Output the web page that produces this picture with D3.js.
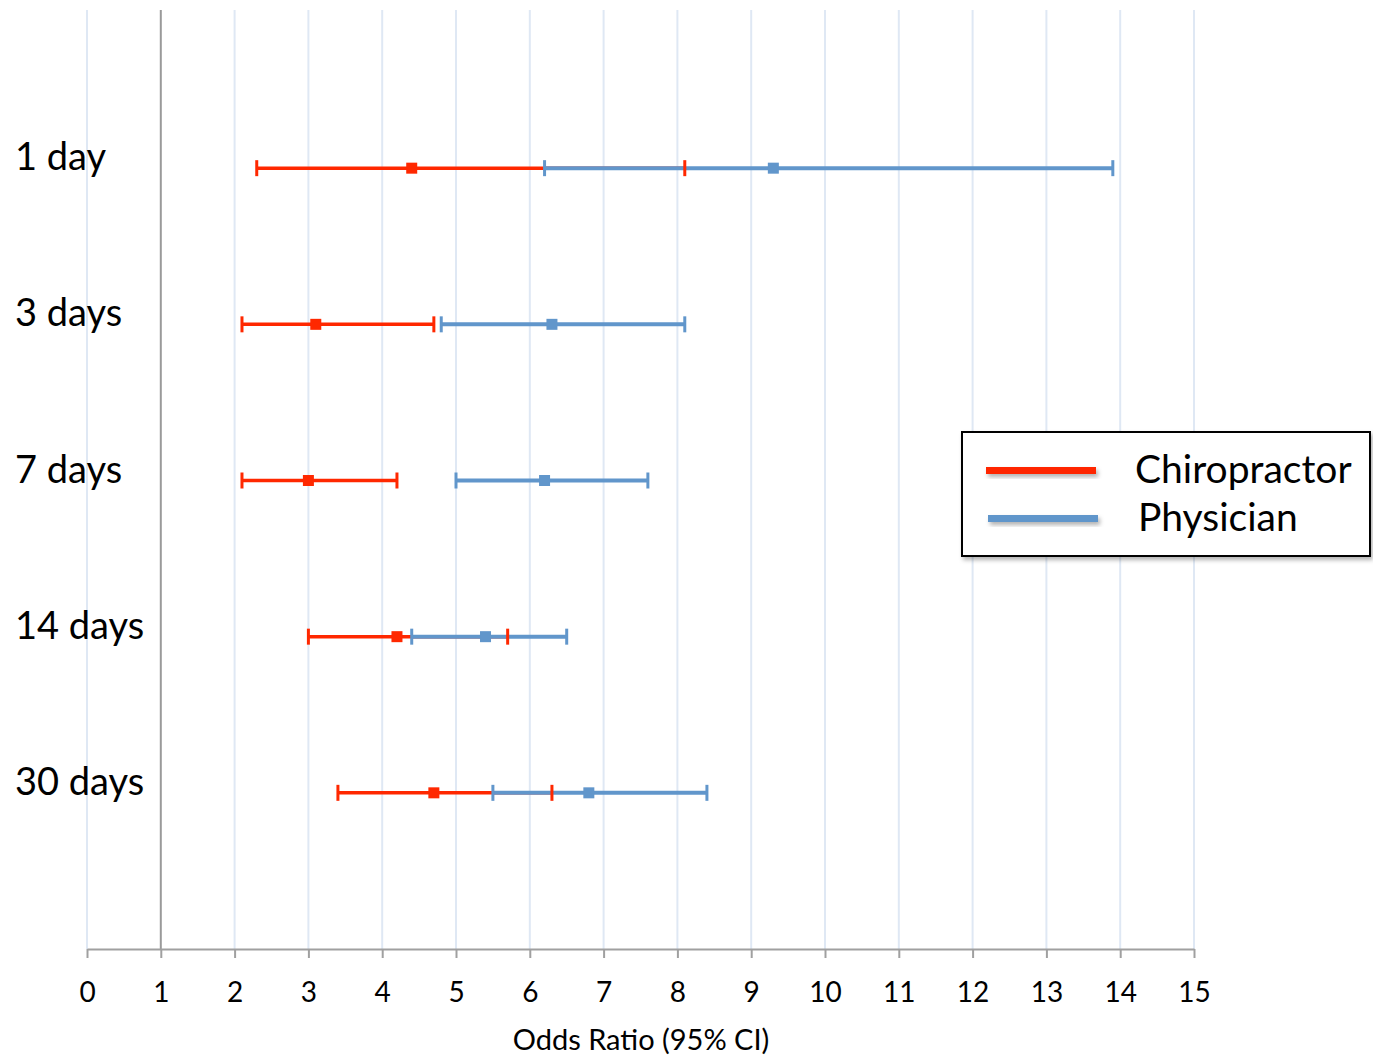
<!DOCTYPE html>
<html>
<head>
<meta charset="utf-8">
<script src="https://cdn.jsdelivr.net/npm/d3@7"></script>
<style>
body{margin:0;background:#fff}
text{font-family:Lato,"Open Sans",sans-serif;fill:#000}
</style>
</head>
<body>
<div id="chart"></div>
<script>

// DATA

const categories = ["1 day","3 days","7 days","14 days","30 days"]
const chiroLow = [2.3,2.1,2.1,3.0,3.4]
const chiroOR = [4.4,3.1,3.0,4.2,4.7]
const chiroHigh = [8.1,4.7,4.2,5.7,6.3]
const physLow = [6.2,4.8,5.0,4.4,5.5]
const physOR = [9.3,6.3,6.2,5.4,6.8]
const physHigh = [13.9,8.1,7.6,6.5,8.4]
const xTicks = d3.range(0,16)
const seriesNames = ["Chiropractor","Physician"]

const RED = "#ff2800"
const BLUE = "#6196cb"

const width = 1373
const height = 1056

const svg = d3.select("#chart")
.append("svg")
.attr("width",width)
.attr("height",height)

const x = d3.scaleLinear()
.domain([0,15])
.range([87,1194])

// categories sit at 5..1 on a 0..6 value axis
const y = d3.scaleLinear()
.domain([0,6])
.range([949,12])

const yPos = i => y(5-i)


// GRIDLINES

svg.append("g")
.selectAll("line")
.data(xTicks)
.enter()
.append("line")
.attr("x1",d=>x(d))
.attr("x2",d=>x(d))
.attr("y1",10)
.attr("y2",y(0))
.attr("stroke",d=>d==1?"#9a9a9a":"#dfe8f4")
.attr("stroke-width",2)


// AXIS

const axis = svg.append("g")
.attr("transform",`translate(0,${y(0)})`)
.call(d3.axisBottom(x).tickValues(xTicks).tickSize(9).tickSizeOuter(0).tickPadding(24))

axis.select(".domain").attr("stroke","#a0a0a0").attr("stroke-width",2)
axis.selectAll(".tick line").attr("stroke","#a0a0a0").attr("stroke-width",2)
axis.selectAll(".tick text")
.style("font-family","Lato,'Open Sans',sans-serif")
.style("font-size","28px")
.attr("fill","#000")

svg.append("text")
.attr("x",641)
.attr("y",1050)
.attr("text-anchor","middle")
.style("font-size","29px")
.text("Odds Ratio (95% CI)")


// CATEGORY LABELS

svg.selectAll(".cat")
.data(categories)
.enter()
.append("text")
.attr("class","cat")
.attr("x",15)
.attr("y",(d,i)=>yPos(i)+2)
.style("font-size","38px")
.text(d=>d)


// SERIES

const series = [
{name:seriesNames[0],color:RED,low:chiroLow,or:chiroOR,high:chiroHigh,w:3.5},
{name:seriesNames[1],color:BLUE,low:physLow,or:physOR,high:physHigh,w:4}
]

// lines
series.forEach(s=>{
svg.append("g")
.selectAll("line")
.data(categories)
.enter()
.append("line")
.attr("x1",(d,i)=>x(s.low[i]))
.attr("x2",(d,i)=>x(s.high[i]))
.attr("y1",(d,i)=>yPos(i))
.attr("y2",(d,i)=>yPos(i))
.attr("stroke",s.color)
.attr("stroke-width",s.w)
})

// caps
series.forEach(s=>{
const g = svg.append("g")
;[s.low,s.high].forEach(arr=>{
g.selectAll(null)
.data(categories)
.enter()
.append("line")
.attr("x1",(d,i)=>x(arr[i]))
.attr("x2",(d,i)=>x(arr[i]))
.attr("y1",(d,i)=>yPos(i)-8)
.attr("y2",(d,i)=>yPos(i)+8)
.attr("stroke",s.color)
.attr("stroke-width",3)
})
})

// markers
series.forEach(s=>{
svg.append("g")
.selectAll("rect")
.data(categories)
.enter()
.append("rect")
.attr("x",(d,i)=>x(s.or[i])-5.5)
.attr("y",(d,i)=>yPos(i)-5.5)
.attr("width",11)
.attr("height",11)
.attr("fill",s.color)
})


// LEGEND

const defs = svg.append("defs")
const f = defs.append("filter").attr("id","shadow").attr("x","-10%").attr("y","-30%").attr("width","130%").attr("height","200%")
f.append("feDropShadow").attr("dx",2).attr("dy",3).attr("stdDeviation",2).attr("flood-color","#000").attr("flood-opacity",0.3)

const legend = svg.append("g")

legend.append("rect")
.attr("x",962)
.attr("y",432)
.attr("width",408)
.attr("height",124)
.attr("fill","#fff")
.attr("stroke","#000")
.attr("stroke-width",2)
.attr("filter","url(#shadow)")

series.forEach((s,i)=>{
legend.append("rect")
.attr("x",986+i*2)
.attr("y",467+i*48)
.attr("width",110)
.attr("height",7)
.attr("fill",s.color)
.attr("filter","url(#shadow)")

legend.append("text")
.attr("x",1135+i*3)
.attr("y",470+i*48+13)
.style("font-size","39px")
.text(s.name)
})

</script>
</body>
</html>
